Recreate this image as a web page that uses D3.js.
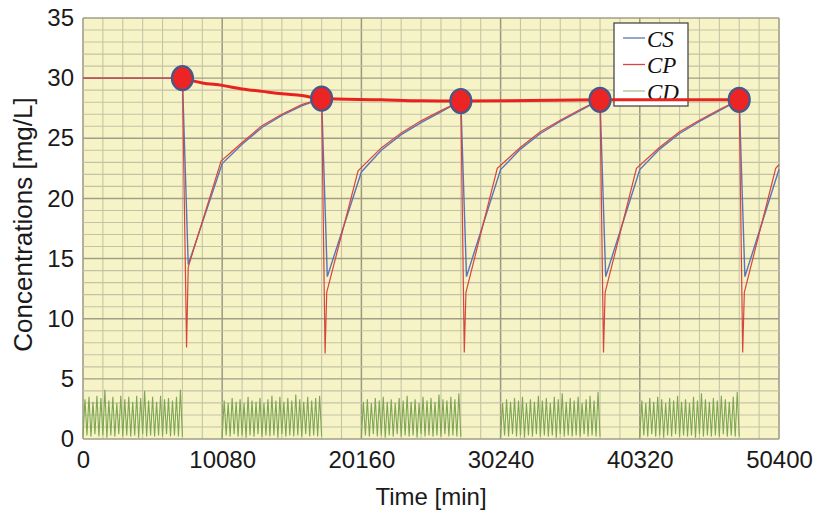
<!DOCTYPE html>
<html>
<head>
<meta charset="utf-8">
<script src="https://cdn.jsdelivr.net/npm/d3@7"></script>
<style>
  html, body { margin: 0; padding: 0; background: #ffffff; }
  svg { display: block; }
  .tick text { font-family: "Liberation Sans", Arial, sans-serif; font-size: 24px; fill: #1a1a1a; }
</style>
</head>
<body>
<svg id="chart" width="813" height="513"></svg>
<script>
// Axis ticks
const xTicks = [0, 10080, 20160, 30240, 40320, 50400];
const yTicks = [0, 5, 10, 15, 20, 25, 30, 35];

// Dosing / sampling times (min)
const doseTimes = [7200, 17280, 27360, 37440, 47520];
const doseLevels = [30.0, 28.3, 28.1, 28.2, 28.2];

// Trend through the pre-dose levels
const trendTimes  = [7200, 8640, 10080, 11520, 12960, 14400, 15840, 17280, 21600, 24480, 27360, 32400, 37440, 42480, 47520];
const trendValues = [30.0, 29.6, 29.4, 29.1, 28.9, 28.7, 28.55, 28.3, 28.2, 28.12, 28.1, 28.15, 28.2, 28.2, 28.2];

// CS series
const csTimes = [0, 7200, 7620, 10080, 11520, 12960, 14400, 15840, 17280,
                 17690, 20160, 21600, 23040, 24480, 25920, 27360,
                 27770, 30240, 31680, 33120, 34560, 36000, 37440,
                 37850, 40320, 41760, 43200, 44640, 46080, 47520,
                 47930, 50400];
const csValues = [30.0, 30.0, 14.5, 22.9, 24.5, 25.9, 26.9, 27.7, 28.3,
                  13.5, 22.2, 24.0, 25.3, 26.3, 27.2, 28.1,
                  13.5, 22.4, 24.1, 25.4, 26.4, 27.3, 28.2,
                  13.5, 22.4, 24.1, 25.4, 26.4, 27.3, 28.2,
                  13.5, 22.4];

// CP series
const cpTimes = [0, 7200, 7500, 7620, 10000, 11520, 12960, 14400, 15840, 17280,
                 17530, 17650, 19920, 21600, 23040, 24480, 25920, 27360,
                 27610, 27730, 30000, 31680, 33120, 34560, 36000, 37440,
                 37690, 37810, 40080, 41760, 43200, 44640, 46080, 47520,
                 47770, 47890, 50160, 50400];
const cpValues = [30.0, 30.0, 7.6, 14.3, 23.1, 24.65, 26.05, 27.0, 27.8, 28.3,
                  7.1, 12.2, 22.3, 24.2, 25.45, 26.45, 27.3, 28.1,
                  7.2, 12.2, 22.5, 24.25, 25.55, 26.5, 27.4, 28.2,
                  7.2, 12.2, 22.5, 24.25, 25.55, 26.5, 27.4, 28.2,
                  7.2, 12.2, 22.5, 22.8];

// CD series: dosing blocks, peaks and troughs of each 288-min cycle
const cdBlockStarts = [0, 10080, 20160, 30240, 40320];
const cdCycle = 288;
const cdPeaks = [
  [3.3, 3.5, 3.1, 3.6, 3.4, 4.1, 3.2, 3.5, 3.0, 3.6, 3.3, 3.5, 3.1, 3.6, 3.4, 4.0, 3.2, 3.5, 3.1, 3.6, 3.3, 3.4, 3.2, 3.5, 4.1],
  [3.2, 3.0, 3.4, 3.1, 3.3, 3.0, 3.5, 3.2, 3.1, 3.4, 3.0, 3.3, 3.6, 3.2, 3.5, 3.1, 3.4, 3.2, 3.7, 3.3, 3.1, 3.5, 3.2, 3.4, 3.6],
  [3.1, 3.3, 3.0, 3.4, 3.2, 3.5, 3.1, 3.3, 3.0, 3.4, 3.2, 3.6, 3.1, 3.3, 3.0, 3.5, 3.2, 3.4, 3.1, 3.7, 3.3, 3.2, 3.5, 3.3, 3.8],
  [3.0, 3.3, 3.1, 3.4, 3.2, 3.5, 3.0, 3.3, 3.1, 3.6, 3.2, 3.4, 3.0, 3.5, 3.3, 3.8, 3.1, 3.4, 3.2, 3.5, 3.0, 3.3, 3.6, 3.2, 3.9],
  [3.2, 3.0, 3.4, 3.1, 3.5, 3.3, 3.0, 3.4, 3.2, 3.6, 3.1, 3.3, 3.0, 3.5, 3.2, 3.8, 3.3, 3.1, 3.4, 3.2, 3.6, 3.3, 3.1, 3.5, 3.9]
];
const cdTroughs = [0.2, 0.3, 0.2, 0.4, 0.2, 0.3, 0.1, 0.3, 0.2, 0.4, 0.2, 0.3, 0.2, 0.3, 0.1, 0.4, 0.2, 0.3, 0.2, 0.3, 0.2, 0.4, 0.2, 0.3, 0.2, 0.2];

// Legend entries
const legendNames  = ["CS", "CP", "CD"];
const legendColors = ["#5a74b8", "#d8453e", "#a9bf96"];

const svg = d3.select("#chart");
const margin = { left: 83, right: 34, top: 18, bottom: 74 };
const W = 813, H = 513;

const x = d3.scaleLinear().domain([0, 50400]).range([margin.left, W - margin.right]);
const y = d3.scaleLinear().domain([0, 35]).range([H - margin.bottom, margin.top]);

// plot background
svg.append("rect")
  .attr("x", x(0)).attr("y", y(35))
  .attr("width", x(50400) - x(0)).attr("height", y(0) - y(35))
  .attr("fill", "#f6f4c6");

// grid: daily verticals, weekly majors; unit horizontals, every 5 majors
const grid = svg.append("g");
const vLines = d3.range(0, 50400 + 1, 1440);
const hLines = d3.range(0, 36, 1);
grid.selectAll(".vg").data(vLines).join("line")
  .attr("x1", d => x(d)).attr("x2", d => x(d))
  .attr("y1", y(0)).attr("y2", y(35))
  .attr("stroke", d => d % 10080 === 0 ? "#9a9882" : "#c6c4a5")
  .attr("stroke-width", d => d % 10080 === 0 ? 1.5 : 1.1);
grid.selectAll(".hg").data(hLines).join("line")
  .attr("x1", x(0)).attr("x2", x(50400))
  .attr("y1", d => y(d)).attr("y2", d => y(d))
  .attr("stroke", d => d % 5 === 0 ? "#a09e87" : "#c4c2a4")
  .attr("stroke-width", d => d % 5 === 0 ? 1.4 : 1.1);

// axes
const xAxis = d3.axisBottom(x).tickValues(xTicks).tickFormat(d3.format("d")).tickSize(0).tickPadding(12);
const yAxis = d3.axisLeft(y).tickValues(yTicks).tickFormat(d3.format("d")).tickSize(0).tickPadding(9);
svg.append("g").attr("transform", `translate(0,${y(0)})`).call(xAxis).call(g => g.select(".domain").remove());
svg.append("g").attr("transform", `translate(${x(0)},0)`).call(yAxis).call(g => g.select(".domain").remove());

svg.append("text")
  .attr("transform", `translate(32,${(y(0) + y(35)) / 2 - 4}) rotate(-90)`)
  .attr("text-anchor", "middle")
  .style("font-family", '"Liberation Sans", Arial, sans-serif')
  .style("font-size", "26px").style("fill", "#1a1a1a")
  .text("Concentrations [mg/L]");

svg.append("text")
  .attr("x", (x(0) + x(50400)) / 2).attr("y", 505)
  .attr("text-anchor", "middle")
  .style("font-family", '"Liberation Sans", Arial, sans-serif')
  .style("font-size", "24px").style("fill", "#1a1a1a")
  .text("Time [min]");

const line = d3.line().x(d => x(d[0])).y(d => y(d[1]));

// CD series, one path per dosing block
cdBlockStarts.forEach((s, b) => {
  const pts = [];
  cdTroughs.forEach((tv, i) => {
    pts.push([s + i * cdCycle, tv]);
    if (i < cdPeaks[b].length) pts.push([s + i * cdCycle + cdCycle / 2, cdPeaks[b][i]]);
  });
  svg.append("path").datum(pts)
    .attr("d", line).attr("fill", "none")
    .attr("stroke", "#7fa653").attr("stroke-width", 1.1);
});

// CS and CP
const csData = csTimes.map((t, i) => [t, csValues[i]]);
const cpData = cpTimes.map((t, i) => [t, cpValues[i]]);
svg.append("path").datum(csData)
  .attr("d", line).attr("fill", "none")
  .attr("stroke", "#5a74b8").attr("stroke-width", 1.4);
svg.append("path").datum(cpData)
  .attr("d", line).attr("fill", "none")
  .attr("stroke", "#d8453e").attr("stroke-width", 1.2);

// legend
const lg = svg.append("g");
lg.append("rect").attr("x", 614).attr("y", 23).attr("width", 74).attr("height", 83)
  .attr("fill", "#ffffff").attr("stroke", "#4a4a4a").attr("stroke-width", 1.3);
legendNames.forEach((n, i) => {
  const ly = 38 + i * 26.5;
  lg.append("line").attr("x1", 623).attr("x2", 645).attr("y1", ly).attr("y2", ly)
    .attr("stroke", legendColors[i]).attr("stroke-width", 1.3);
  lg.append("text").attr("x", 647).attr("y", ly + 8.5)
    .style("font-family", '"Liberation Serif", "Times New Roman", serif')
    .style("font-style", "italic").style("font-size", "23px").style("fill", "#111")
    .text(n);
});

// trend through pre-dose levels
const trendData = trendTimes.map((t, i) => [t, trendValues[i]]);
svg.append("path").datum(trendData)
  .attr("d", d3.line().x(d => x(d[0])).y(d => y(d[1])).curve(d3.curveMonotoneX))
  .attr("fill", "none").attr("stroke", "#e8231f").attr("stroke-width", 3);

svg.selectAll(".dose").data(doseTimes).join("ellipse")
  .attr("cx", d => x(d)).attr("cy", (d, i) => y(doseLevels[i]))
  .attr("rx", 10.5).attr("ry", 12)
  .attr("fill", "#ec2424").attr("stroke", "#46598a").attr("stroke-width", 2.2);
</script>
</body>
</html>
